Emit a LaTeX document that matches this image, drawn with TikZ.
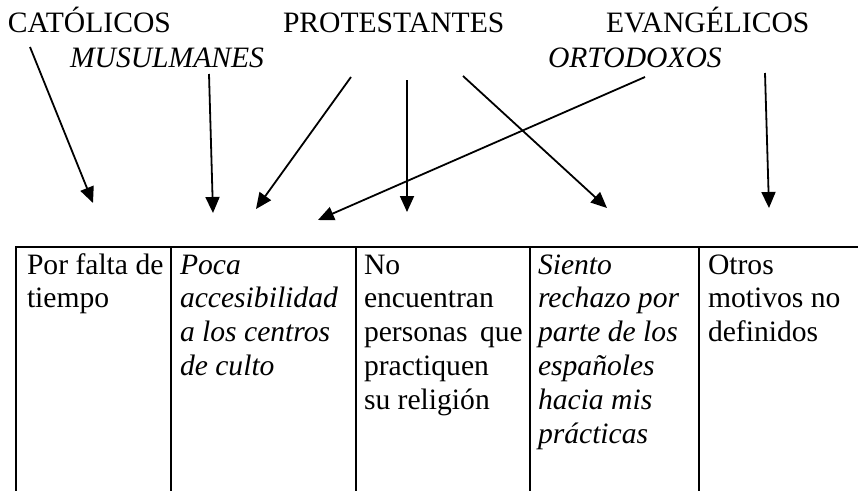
\documentclass[tikz,border=0pt]{standalone}
\usepackage{fontspec}
\setmainfont{Liberation Serif}
\usetikzlibrary{arrows.meta}
\begin{document}
\begin{tikzpicture}[x=1pt,y=-1pt,
  lbl/.style={anchor=base west,inner sep=0pt,outer sep=0pt,font=\fontsize{29.6}{34}\selectfont},
  cell/.style={anchor=base west,inner sep=0pt,outer sep=0pt,font=\fontsize{29.6}{33.8}\selectfont},
  arr/.style={line width=1.8pt,-{Triangle[length=16pt,width=14pt]}},
  rule/.style={line width=2.2pt}]
\useasboundingbox (0,0) rectangle (858,490);
% headers
\node[lbl] (cat) at (8,32) {CATÓLICOS};
\node[lbl] (pro) at (283,32) {PROTESTANTES};
\node[lbl] (eva) at (606,32) {EVANGÉLICOS};
\node[lbl] (mus) at (70,67) {\itshape MUSULMANES};
\node[lbl] (ort) at (548,67) {\itshape ORTODOXOS};
% arrow end points
\coordinate (s1) at (30,47);   \coordinate (t1) at (93,203);
\coordinate (s2) at (209,74);  \coordinate (t2) at (213,213);
\coordinate (s3) at (351,77);  \coordinate (t3) at (256,209);
\coordinate (s4) at (407,80);  \coordinate (t4) at (407,212);
\coordinate (s5) at (463,76);  \coordinate (t5) at (607,208);
\coordinate (s6) at (645,77);  \coordinate (t6) at (318,220);
\coordinate (s7) at (765,73);  \coordinate (t7) at (769,208);
\foreach \i in {1,...,7} \draw[arr] (s\i) -- (t\i);
% table
\coordinate (tl) at (15,247); \coordinate (tr) at (858,247);
\draw[rule] (tl) -- (tr);
\foreach \x/\n in {16/v0,171/v1,356/v2,530/v3,699/v4} {
  \coordinate (\n a) at (\x,247); \coordinate (\n b) at (\x,492);
  \draw[rule] (\n a) -- (\n b);
}
\node[cell] (c1) at (27,274) {\parbox[t]{140pt}{\raggedright Por falta de\\tiempo}};
\node[cell] (c2) at (180,274) {\parbox[t]{170pt}{\raggedright\itshape Poca\\accesibilidad\\a los centros\\de culto}};
\node[cell] (c3) at (364,274) {\parbox[t]{166pt}{\raggedright No\\encuentran\\personas\hspace{0.42em}que\\practiquen\\su religión}};
\node[cell] (c4) at (538,274) {\parbox[t]{160pt}{\raggedright\itshape Siento\\rechazo por\\parte de los\\españoles\\hacia mis\\prácticas}};
\node[cell] (c5) at (708,274) {\parbox[t]{150pt}{\raggedright Otros\\motivos no\\definidos}};
\end{tikzpicture}
\end{document}
